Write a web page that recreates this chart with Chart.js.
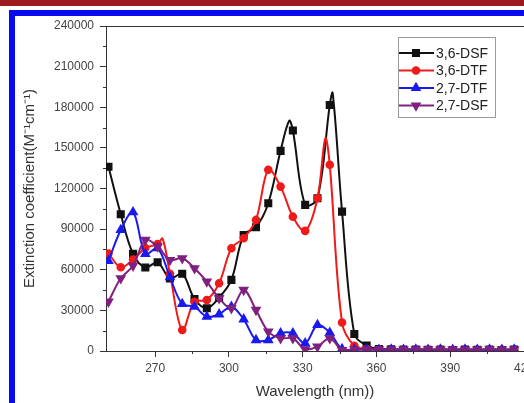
<!DOCTYPE html>
<html>
<head>
<meta charset="utf-8">
<script src="https://cdn.jsdelivr.net/npm/chart.js@4.4.1/dist/chart.umd.min.js"></script>
<style>
  html, body { margin: 0; padding: 0; background: #fff; overflow: hidden; width: 524px; height: 403px; }
  #topbar { position: absolute; left: 0; top: 0; width: 524px; height: 6px; background: #9c1a1e; }
  #frame { position: absolute; left: 9px; top: 10px; width: 600px; height: 500px;
            border-left: 6px solid #0a0af0; border-top: 6px solid #0a0af0; }
  #wrap { position: absolute; left: 0; top: 0; width: 560px; height: 403px; }
</style>
</head>
<body>
<div id="topbar"></div>
<div id="frame"></div>
<div id="wrap"><canvas id="myChart" width="560" height="403" style="width:560px;height:403px"></canvas></div>
<script>
// wavelengths where the markers sit (nm)
const wavelength = [251, 256, 261, 266, 271, 276, 281, 286, 291, 296, 301, 306, 311, 316, 321, 326, 331,
  336, 341, 346, 351, 356, 361, 366, 371, 376, 381, 386, 391, 396, 401, 406, 411, 416];

const dsf36 = [136000, 101000, 71700, 61600, 65500, 53500, 57000, 38400, 31600, 39400, 52500, 85700, 91400,
  109100, 147800, 162800, 107900, 112800, 181600, 102900, 12500, 4000, 1500, 1200, 1000, 1100, 900, 1000,
  800, 1000, 900, 1100, 800, 1000];
const dtf36 = [72000, 61800, 67500, 76000, 79000, 57000, 15500, 36400, 37700, 50000, 75900, 83300, 96800,
  133800, 121400, 99200, 88700, 112800, 137500, 21000, 3800, 1500, 1000, 800, 900, 700, 800, 900,
  700, 800, 700, 900, 800, 700];
const dtf27 = [66500, 89400, 102500, 71700, 75900, 54500, 34700, 32700, 25300, 27100, 32700, 23400, 8100,
  8100, 13100, 13100, 5700, 19200, 13500, 1500, 1000, 1200, 900, 1100, 1000, 1200, 900, 1100,
  1000, 1200, 900, 1100, 1000, 1200];
const dsf27 = [36400, 53700, 63000, 82000, 77100, 67200, 68500, 61100, 51200, 38900, 31600, 45100, 30300,
  14300, 9400, 9400, 1300, 3200, 9400, 700, 1200, 1000, 1300, 1100, 1000, 1300, 1200, 1000,
  1300, 1100, 1000, 1300, 1100, 1000];

// peaks of the drawn curve that fall between markers
const dsf36PeakNm = [324.5, 342.2];
const dsf36PeakVal = [170000, 190500];
const dtf36PeakNm = [273, 339.2];
const dtf36PeakVal = [83000, 157000];

const xTicks = [270, 300, 330, 360, 390, 420];

function buildPoints(ys, peakNm, peakVal) {
  const pts = wavelength.map((x, i) => ({ x: x, y: ys[i], mark: true }));
  (peakNm || []).forEach((x, i) => pts.push({ x: x, y: peakVal[i], mark: false }));
  return pts.sort((a, b) => a.x - b.x);
}

function markerSize(r) {
  return ctx => (ctx.raw && ctx.raw.mark ? r : 0);
}

const FONT = '"Liberation Sans", Arial, sans-serif';

const legendBox = {
  id: 'legendBox',
  afterDatasetsDraw(chart) {
    const ctx = chart.ctx, a = chart.chartArea;
    const left = a.right - 126, top = a.top + 11, w = 97, h = 80;
    ctx.save();
    // top frame line
    ctx.strokeStyle = '#333';
    ctx.lineWidth = 1;
    ctx.beginPath();
    ctx.moveTo(a.left, a.top + 0.5);
    ctx.lineTo(a.right, a.top + 0.5);
    ctx.stroke();

    // short minor ticks
    const xs = chart.scales.x, ys = chart.scales.y;
    ctx.beginPath();
    xs.ticks.forEach(t => {
      if (t.value > xs.min && !xTicks.includes(t.value)) {
        const px = Math.round(xs.getPixelForValue(t.value)) + 0.5;
        ctx.moveTo(px, a.bottom);
        ctx.lineTo(px, a.bottom + 3);
      }
    });
    ys.ticks.forEach(t => {
      if (t.value % 30000 !== 0) {
        const py = Math.round(ys.getPixelForValue(t.value)) + 0.5;
        ctx.moveTo(a.left, py);
        ctx.lineTo(a.left - 3, py);
      }
    });
    ctx.stroke();

    ctx.fillStyle = '#fff';
    ctx.fillRect(left, top, w, h);
    ctx.strokeStyle = '#9a9a9a';
    ctx.strokeRect(left + 0.5, top + 0.5, w, h);
    ctx.font = '14px ' + FONT;
    ctx.textBaseline = 'middle';
    chart.data.datasets.forEach((ds, i) => {
      const y = top + 16 + i * 17.5;
      ctx.strokeStyle = ds.borderColor;
      ctx.lineWidth = 2;
      ctx.beginPath();
      ctx.moveTo(left + 1, y);
      ctx.lineTo(left + 36, y);
      ctx.stroke();
      ctx.fillStyle = ds.borderColor;
      Chart.helpers.drawPoint(ctx, {
        pointStyle: ds.pointStyle, radius: ds.legendRadius,
        rotation: ds.pointRotation || 0, borderWidth: 1
      }, left + 18, y);
      ctx.fillStyle = '#222';
      ctx.fillText(ds.label, left + 38, y + 1);
    });
    ctx.restore();
  }
};

function series(label, color, ys, style, r, order, peakNm, peakVal, rot) {
  return {
    label: label,
    data: buildPoints(ys, peakNm, peakVal),
    borderColor: color,
    backgroundColor: color,
    pointBackgroundColor: color,
    pointBorderColor: color,
    pointStyle: style,
    pointRotation: rot || 0,
    pointRadius: markerSize(r),
    pointHoverRadius: markerSize(r),
    legendRadius: r,
    borderWidth: 2,
    tension: 0.35,
    order: order
  };
}

const data = {
  datasets: [
    series('3,6-DSF', '#111111', dsf36, 'rect', 4.3, 3, dsf36PeakNm, dsf36PeakVal),
    series('3,6-DTF', '#f01a1a', dtf36, 'circle', 3.3, 2, dtf36PeakNm, dtf36PeakVal),
    series('2,7-DTF', '#1a1aee', dtf27, 'triangle', 4.2, 1),
    series('2,7-DSF', '#80207f', dsf27, 'triangle', 4.2, 0, null, null, 180)
  ]
};

const majorTick = (list) => c => (c.tick && list(c.tick.value) ? '#333' : 'rgba(0,0,0,0)');

const config = {
  type: 'line',
  data: data,
  options: {
    responsive: false,
    animation: false,
    layout: { padding: { left: 0, top: 26, right: 36, bottom: 0 } },
    plugins: {
      legend: { display: false },
      tooltip: { enabled: false }
    },
    scales: {
      x: {
        type: 'linear',
        min: 250,
        max: 420,
        afterFit: s => { s.height = 52; },
        border: { display: true, color: '#333', width: 1 },
        grid: { drawOnChartArea: false, drawTicks: true, tickLength: 6,
                tickColor: majorTick(v => xTicks.includes(v)) },
        ticks: {
          stepSize: 15,
          autoSkip: false,
          maxRotation: 0,
          padding: 4,
          color: '#444',
          font: { family: FONT, size: 12 },
          callback: v => (xTicks.includes(v) ? String(v) : '')
        },
        title: {
          display: true,
          text: 'Wavelength (nm))',
          color: '#333',
          font: { family: FONT, size: 15 },
          padding: { top: 0, bottom: 2 }
        }
      },
      y: {
        min: 0,
        max: 240000,
        afterFit: s => { s.width = 106; },
        border: { display: true, color: '#333', width: 1 },
        grid: { drawOnChartArea: false, drawTicks: true, tickLength: 6,
                tickColor: majorTick(v => v % 30000 === 0) },
        ticks: {
          stepSize: 15000,
          autoSkip: false,
          padding: 6,
          color: '#444',
          font: { family: FONT, size: 12 },
          callback: v => (v % 30000 === 0 ? String(v) : '')
        },
        title: {
          display: true,
          text: 'Extinction coefficient(M\u207B\u00B9cm\u207B\u00B9)',
          color: '#333',
          font: { family: FONT, size: 15 },
          padding: { top: 21, bottom: 0 }
        }
      }
    }
  },
  plugins: [legendBox]
};

var ctx = document.getElementById('myChart');
var myChart = new Chart(ctx, config);
</script>
</body>
</html>
